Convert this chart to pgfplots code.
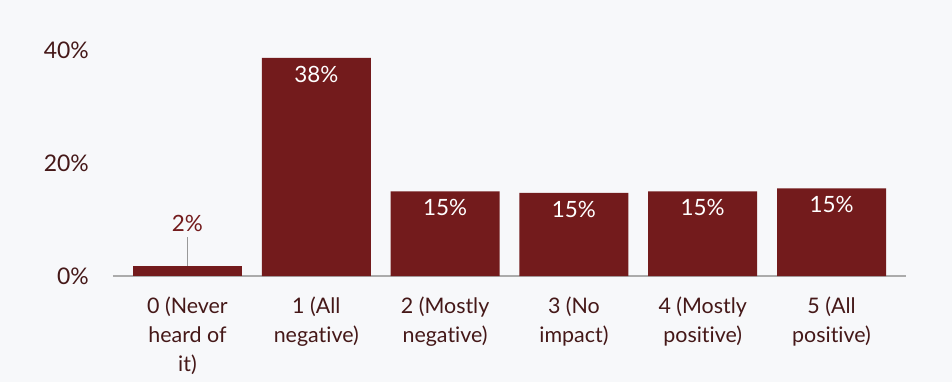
\documentclass[border=0pt]{standalone}
\usepackage{pgfplots}
\pgfplotsset{compat=1.18}
\usepackage{fontspec}
\setmainfont{Lato}[Ligatures={NoCommon,NoRequired,NoContextual}]
\definecolor{barred}{HTML}{731B1C}
\definecolor{bgc}{HTML}{F7F8FA}
\definecolor{txt}{HTML}{451818}
\definecolor{axg}{HTML}{ABABAB}
\definecolor{leadg}{HTML}{999999}
\begin{document}
\begin{tikzpicture}
\fill[bgc] (0,0) rectangle (952bp,382bp);
\useasboundingbox (0,0) rectangle (952bp,382bp);
\begin{axis}[
  at={(113bp,106bp)}, anchor=south west,
  scale only axis, width=793bp, height=226bp,
  xmin=-0.578, xmax=5.578, ymin=0, ymax=40,
  ybar, bar width=109bp, bar shift=0pt,
  axis x line*=bottom, axis y line*=left,
  y axis line style={draw=none},
  x axis line style={draw=axg, line width=2bp},
  xtick={0,1,2,3,4,5}, xtick style={draw=none},
  xticklabels={0 (Never\\heard of\\it), 1 (All\\negative), 2 (Mostly\\negative), 3 (No\\impact), 4 (Mostly\\positive), 5 (All\\positive)},
  xticklabel style={align=center, text=txt, font=\fontsize{21.5}{29.5}\selectfont, inner sep=0pt, anchor=north, yshift=-16bp},
  ytick={0,20,40}, yticklabels={0\%,20\%,40\%},
  ytick style={draw=none},
  yticklabel style={text=txt, font=\fontsize{23}{27}\selectfont, inner sep=0pt, anchor=east, xshift=-24bp},
  point meta=explicit symbolic,
  clip=false,
]
\addplot[fill=barred, draw=none,
  nodes near coords, every node near coord/.append style={text=barred, font=\fontsize{22.5}{27}\selectfont, anchor=base, inner sep=0pt, yshift=34bp},
  error bars/.cd, y dir=plus, y explicit, error mark=none,
  error bar style={draw=leadg, line width=1.8bp}]
  coordinates {(0,1.8) +- (0,5.1) [2\%]};
\addplot[fill=barred, draw=none,
  nodes near coords, every node near coord/.append style={text=white, font=\fontsize{22.5}{27}\selectfont, anchor=base, inner sep=0pt, yshift=-24.5bp}]
  coordinates {(1,38.6) [38\%] (2,15.0) [15\%] (3,14.7) [15\%] (4,15.0) [15\%] (5,15.5) [15\%]};
\end{axis}
\end{tikzpicture}
\end{document}
